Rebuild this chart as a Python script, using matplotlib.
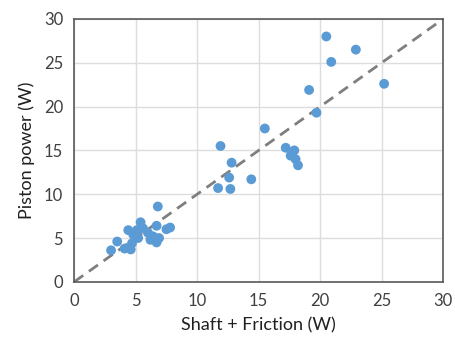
import matplotlib
matplotlib.use("Agg")
import matplotlib.pyplot as plt

plt.rcParams['font.family'] = ['Lato', 'DejaVu Sans']

shaft_friction = [20.5, 22.9, 20.9, 19.1, 25.2, 19.7, 15.5, 11.9, 17.2, 17.9, 17.6, 18.0, 18.2,
                  12.8, 12.6, 14.4, 11.7, 12.7,
                  6.8, 5.4, 7.8, 7.5, 6.7, 4.4, 5.1, 5.6, 6.0, 6.4, 6.9, 6.2, 6.7,
                  4.8, 5.2, 4.7, 4.1, 4.6, 3.5, 3.0]
piston_power = [28.0, 26.5, 25.1, 21.9, 22.6, 19.3, 17.5, 15.5, 15.3, 15.0, 14.4, 14.0, 13.3,
                13.6, 11.9, 11.7, 10.7, 10.6,
                8.6, 6.8, 6.2, 6.0, 6.4, 5.9, 5.9, 6.1, 5.6, 5.2, 5.0, 4.8, 4.5,
                5.4, 5.0, 4.4, 3.8, 3.7, 4.6, 3.6]
ticks = [0, 5, 10, 15, 20, 25, 30]

fig = plt.figure(figsize=(4.55, 3.51), dpi=100)
ax = fig.add_axes([0.163, 0.197, 0.811, 0.749])
ax.plot([0, 30], [0, 30], linestyle=(0, (4, 2.5)), color="#7F7F7F", linewidth=2, zorder=2)
ax.scatter(shaft_friction, piston_power, s=50, color="#5B9BD5", edgecolors="none", zorder=3)
ax.set_xlim(0, 30)
ax.set_ylim(0, 30)
ax.set_xticks(ticks)
ax.set_yticks(ticks)
ax.grid(True, color="#DDDDDD", linewidth=1)
ax.set_axisbelow(True)
for sp in ax.spines.values():
    sp.set_color("#595959")
    sp.set_linewidth(1.2)
ax.tick_params(length=0, labelsize=12, colors="#404040", pad=8)
ax.set_xlabel("Shaft + Friction (W)", fontsize=13, color="#202020", labelpad=6)
ax.set_ylabel("Piston power (W)", fontsize=13, color="#202020", labelpad=6)
fig.savefig("out.png", dpi=100)
